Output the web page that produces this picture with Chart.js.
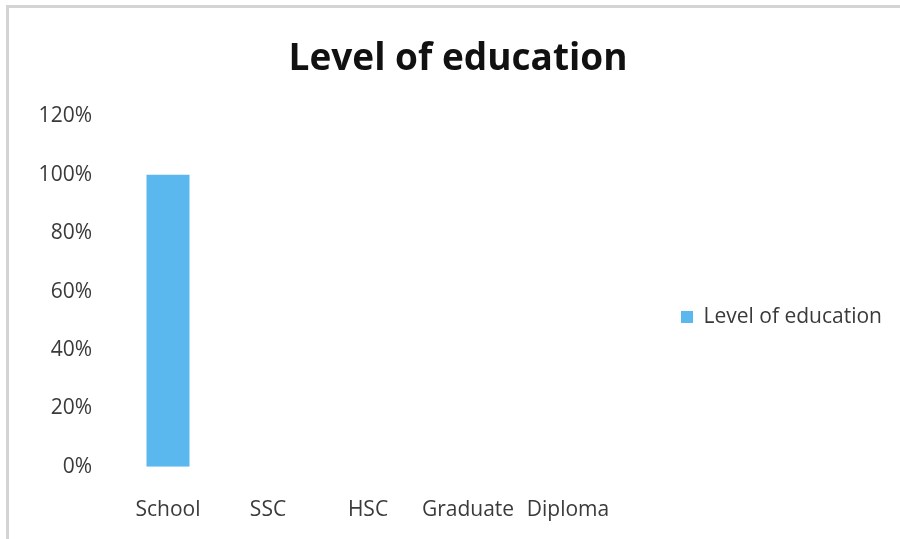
<!DOCTYPE html>
<html>
<head>
<meta charset="utf-8">
<script src="https://cdn.jsdelivr.net/npm/chart.js@4"></script>
<style>
  html, body { margin: 0; padding: 0; background: #fff; }
  #wrap { position: relative; width: 900px; height: 539px; }
  #frame { position: absolute; left: 6px; top: 5px; right: 0; bottom: 0;
           border-left: 3px solid #d4d4d4; border-top: 3px solid #d4d4d4; pointer-events: none; }
  canvas { position: absolute; left: 0; top: 0; }
</style>
</head>
<body>
<div id="wrap">
  <canvas id="chart" width="900" height="539"></canvas>
  <div id="frame"></div>
</div>
<script>
const categories = ['School', 'SSC', 'HSC', 'Graduate', 'Diploma'];
const seriesName = 'Level of education';
const values = [100, 0, 0, 0, 0];
const yTicks = [0, 20, 40, 60, 80, 100, 120];

const barColor = '#5bb8ee';
const textColor = '#3a3a3a';
const font = "'Open Sans', 'DejaVu Sans', sans-serif";

// Legend box gets a fixed width so the plot keeps its width,
// and sits a bit lower than the plot's middle like the original
const fixedLegend = {
  id: 'fixedLegend',
  beforeLayout(chart) {
    const legend = chart.legend;
    if (legend && !legend._patched) {
      const fit = legend.fit.bind(legend);
      legend.fit = function () {
        fit();
        this.width = 282;
      };
      legend._patched = true;
    }
  },
  afterLayout(chart) {
    const legend = chart.legend;
    if (legend) {
      legend.top += 40;
      legend.bottom += 40;
    }
  }
};

new Chart(document.getElementById('chart'), {
  type: 'bar',
  data: {
    labels: categories,
    datasets: [{
      label: seriesName,
      data: values,
      backgroundColor: barColor,
      borderWidth: 0,
      barPercentage: 0.43,
      categoryPercentage: 1,
    }],
  },
  options: {
    responsive: false,
    animation: false,
    layout: { padding: { left: 16, top: 0, right: 0, bottom: -15 } },
    plugins: {
      title: {
        display: true,
        text: 'Level of education',
        color: '#111',
        font: { family: font, size: 37, weight: 'bold' },
        padding: { top: 37, bottom: 35 },
      },
      legend: {
        position: 'right',
        labels: {
          color: textColor,
          font: { family: font, size: 21 },
          boxWidth: 12,
          boxHeight: 12,
          padding: 63,
        },
      },
      tooltip: { enabled: false },
    },
    scales: {
      x: {
        grid: { display: false, drawTicks: false },
        border: { display: false },
        ticks: { color: textColor, font: { family: font, size: 21 }, padding: 31, maxRotation: 0 },
      },
      y: {
        min: 0,
        max: 120,
        afterBuildTicks: (scale) => { scale.ticks = yTicks.map(v => ({ value: v })); },
        afterFit: (scale) => { scale.width = 102; },
        grid: { display: false, drawTicks: false },
        border: { display: false },
        ticks: {
          color: textColor,
          font: { family: font, size: 21 },
          padding: 26,
          callback: (v) => v + '%',
        },
      },
    },
  },
  plugins: [fixedLegend],
});
</script>
</body>
</html>
